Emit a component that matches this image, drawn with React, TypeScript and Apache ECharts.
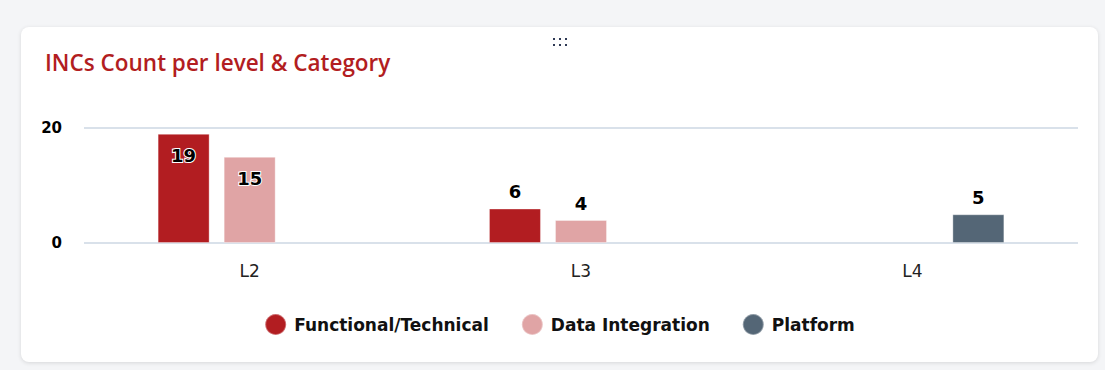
import React, { useEffect, useRef } from "react";
import * as echarts from "echarts";

const categories = ["L2", "L3", "L4"];
const seriesNames = ["Functional/Technical", "Data Integration", "Platform"];
const functionalValues = [19, 6, null];
const dataIntegrationValues = [15, 4, null];
const platformValues = [null, null, 5];
const yTicks = [0, 20];
const colors = ["#b21d21", "#e0a4a5", "#546676"];

const LABEL_FONT = "'DejaVu Sans', sans-serif";

function buildData(values: (number | null)[]) {
  return values.map((v) => {
    if (v === null) return "-";
    const inside = v >= 15;
    return {
      value: v,
      label: inside
        ? { position: "insideTop", distance: 13 }
        : { position: "top", distance: 8 },
    };
  });
}

export default function App() {
  const ref = useRef<HTMLDivElement>(null);
  useEffect(() => {
    if (!ref.current) return;
    const chart = echarts.init(ref.current, null, { renderer: "svg" });
    const allValues = [functionalValues, dataIntegrationValues, platformValues];
    chart.setOption({
      animation: false,
      color: colors,
      title: {
        text: "INCs Count per level & Category",
        left: 19,
        top: 19,
        textStyle: {
          color: "#b21d21",
          fontFamily: "'Open Sans', sans-serif",
          fontWeight: 600,
          fontSize: 22.5,
        },
      },
      graphic: [
        ...[0, 1].flatMap((r) =>
          [0, 1, 2].map((c) => ({
            type: "rect",
            shape: { x: 532 + c * 6, y: 11 + r * 6, width: 2, height: 2 },
            style: { fill: "#2f3a55" },
          }))
        ),
      ],
      legend: {
        data: seriesNames,
        bottom: 21,
        left: "center",
        icon: "circle",
        itemWidth: 21,
        itemHeight: 21,
        itemGap: 32,
        textStyle: {
          fontFamily: LABEL_FONT,
          fontWeight: "bold",
          fontSize: 17,
          color: "#111",
          padding: [0, 0, 0, 3],
        },
      },
      grid: { left: 63, right: 20, top: 101, bottom: 119 },
      xAxis: {
        type: "category",
        data: categories,
        axisLine: { show: false },
        axisTick: { show: false },
        axisLabel: {
          fontFamily: LABEL_FONT,
          fontSize: 17,
          color: "#222",
          margin: 19,
        },
      },
      yAxis: {
        type: "value",
        min: yTicks[0],
        max: yTicks[yTicks.length - 1],
        interval: 20,
        axisLabel: {
          fontFamily: LABEL_FONT,
          fontWeight: "bold",
          fontSize: 15,
          color: "#000",
          margin: 22,
        },
        splitLine: { lineStyle: { color: "#d9e1ea", width: 2 } },
      },
      series: allValues.map((vals, i) => ({
        name: seriesNames[i],
        type: "bar",
        data: buildData(vals),
        barWidth: 52,
        barGap: "27%",
        itemStyle: { borderColor: "rgba(255,255,255,0.35)", borderWidth: 1 },
        label: {
          show: true,
          fontFamily: LABEL_FONT,
          fontWeight: "bold",
          fontSize: 18,
          color: "#000",
          textBorderColor: "#fff",
          textBorderWidth: 2,
        },
      })),
    });
    return () => chart.dispose();
  }, []);

  return (
    <div
      style={{
        position: "fixed",
        left: 0,
        top: 0,
        width: 1105,
        height: 370,
        background: "#f4f5f7",
      }}
    >
      <div
        style={{
          position: "absolute",
          left: 21,
          top: 27,
          width: 1077,
          height: 335,
          background: "#fff",
          borderRadius: 8,
          boxShadow: "0 1px 4px rgba(0,0,0,0.12)",
        }}
      >
        <div ref={ref} style={{ width: 1077, height: 335 }} />
      </div>
    </div>
  );
}
